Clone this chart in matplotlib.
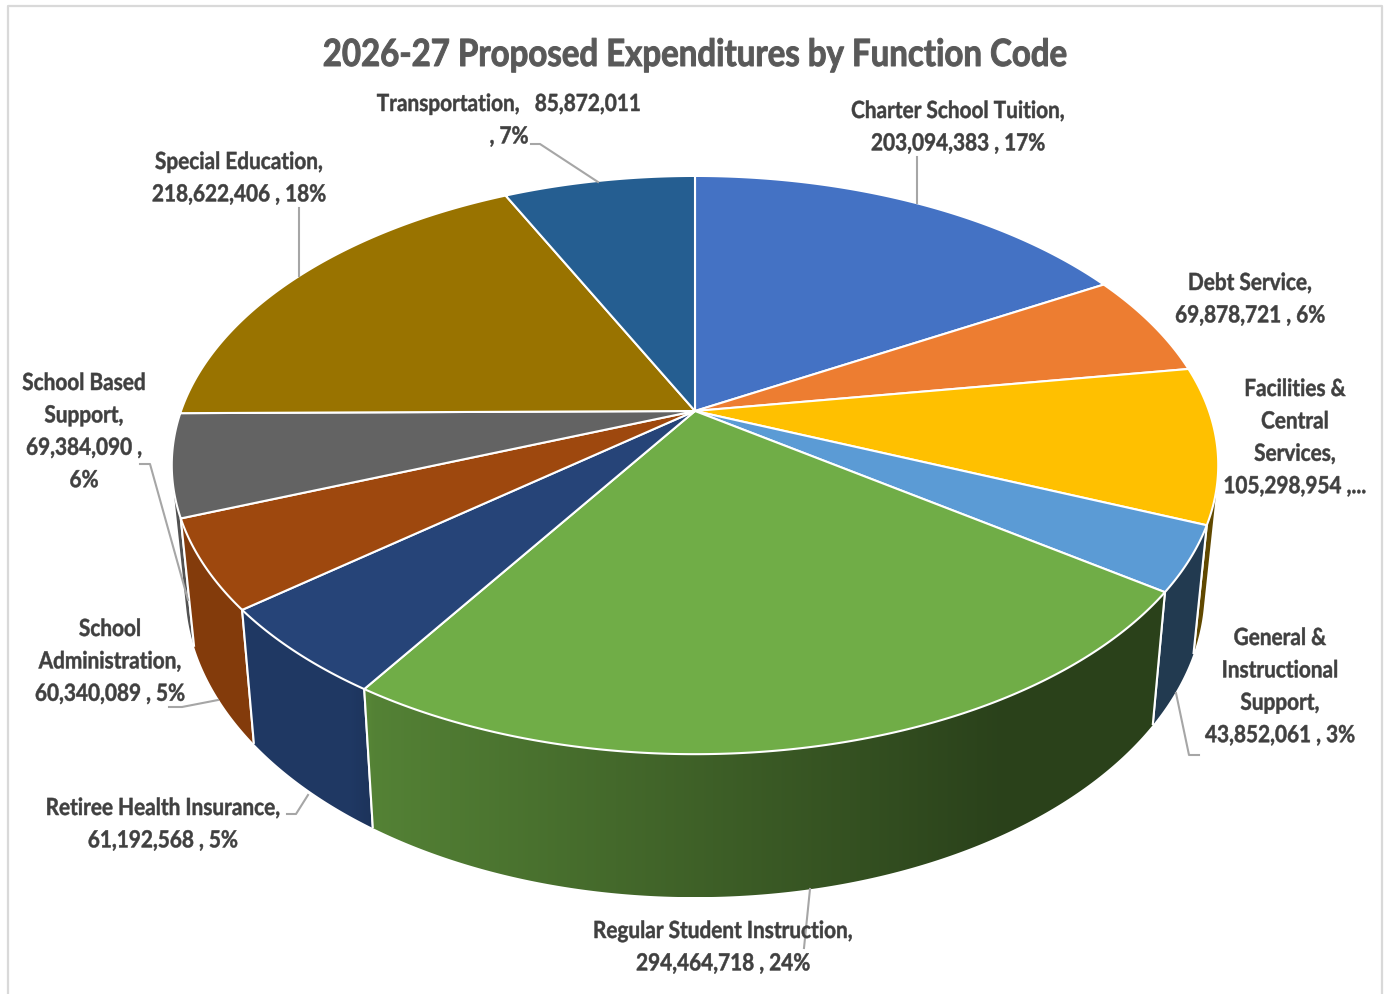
import numpy as np
import matplotlib
matplotlib.use("Agg")
import matplotlib.pyplot as plt
from matplotlib.colors import to_rgb
from matplotlib.patches import Polygon
from matplotlib.patheffects import AbstractPathEffect
from matplotlib.transforms import Affine2D

plt.rcParams['font.family'] = ['Lato', 'DejaVu Sans']

TITLE = "2026-27 Proposed Expenditures by Function Code"
categories = ["Charter School Tuition", "Debt Service", "Facilities & Central Services",
              "General & Instructional Support", "Regular Student Instruction",
              "Retiree Health Insurance", "School Administration", "School Based Support",
              "Special Education", "Transportation"]
amounts = [203094383, 69878721, 105298954, 43852061, 294464718,
           61192568, 60340089, 69384090, 218622406, 85872011]
colors = ["#4472c4", "#ed7d31", "#ffc000", "#5b9bd5", "#70ad47",
          "#264478", "#9e480e", "#636363", "#997300", "#255e91"]
label_lines = [
    ["Charter School Tuition,", "203,094,383 , 17%"],
    ["Debt Service,", "69,878,721 , 6%"],
    ["Facilities &", "Central", "Services,", "105,298,954 ,..."],
    ["General &", "Instructional", "Support,", "43,852,061 , 3%"],
    ["Regular Student Instruction,", "294,464,718 , 24%"],
    ["Retiree Health Insurance,", "61,192,568 , 5%"],
    ["School", "Administration,", "60,340,089 , 5%"],
    ["School Based", "Support,", "69,384,090 ,", "6%"],
    ["Special Education,", "218,622,406 , 18%"],
    ["Transportation,   85,872,011", ", 7%"],
]
# centre x and first-line y of each label block
label_x = [958, 1250, 1295, 1280, 723, 163, 110, 84, 239, 509]
label_y = [108.5, 280.5, 386.5, 635.5, 928.5, 805.5, 626.5, 380.5, 159.5, 101.5]
leaders = [
    [(917, 157), (917, 203)],
    None,
    None,
    [(1176, 693), (1189, 755), (1199, 755)],
    [(810, 889), (804, 948)],
    [(287, 814), (296, 814), (308, 795)],
    [(169, 707), (182, 707), (218, 700)],
    [(140, 464), (150, 464), (188, 600)],
    [(299, 208), (299, 276)],
    [(531, 144), (540, 144), (598, 182)],
]

# Perspective parameters of the tilted disc, in pixels
CX, CY, RX, RY, K = 695.0, 411.0, 514.0, 279.0, 0.187
SCALE_X_LOW, Y_LOW_REF, Y_TOP_REF, SCALE_Y_LOW = 0.974, 726.0, 593.0, 1.062
LINE_STEP = 32.4
LABEL_SQUEEZE = 0.88
TITLE_SQUEEZE = 0.88
TEXT_COLOR = "#404040"
LEADER_COLOR = "#a6a6a6"


class Squeeze(AbstractPathEffect):
    """Narrows glyph outlines horizontally about a fixed display x and thickens them."""

    def __init__(self, x_display, factor, color, stroke):
        super().__init__()
        self._t = Affine2D().translate(-x_display, 0).scale(factor, 1).translate(x_display, 0)
        self._color = color
        self._stroke = stroke

    def draw_path(self, renderer, gc, tpath, affine, rgbFace=None):
        gc0 = renderer.new_gc()
        gc0.copy_properties(gc)
        gc0.set_linewidth(self._stroke)
        gc0.set_foreground(self._color)
        renderer.draw_path(gc0, tpath, affine + self._t, rgbFace)
        gc0.restore()


def top_face(theta):
    u, v = np.sin(theta), np.cos(theta)
    d = 1 + K * v
    return CX + RX * u / d, CY - RY * v / d


def bottom_face(x, y):
    return CX + SCALE_X_LOW * (x - CX), Y_LOW_REF + SCALE_Y_LOW * (y - Y_TOP_REF)


def wall_shade(x):
    return np.interp(x, [350, 373, 1000], [0.83, 0.75, 0.38])


def convex_hull(points):
    pts = sorted(set(points))
    def half(seq):
        out = []
        for p in seq:
            while len(out) >= 2 and ((out[-1][0] - out[-2][0]) * (p[1] - out[-2][1])
                                     - (out[-1][1] - out[-2][1]) * (p[0] - out[-2][0])) <= 0:
                out.pop()
            out.append(p)
        return out[:-1]
    return half(pts) + half(pts[::-1])


def put_text(x, y, s, size, color, squeeze, stroke):
    x_display = ax.transData.transform((x, y))[0]
    t = ax.text(x, y, s, ha="center", va="center_baseline", color=color,
                fontsize=size, fontweight="bold", zorder=6)
    t.set_path_effects([Squeeze(x_display, squeeze, color, stroke)])
    return t


fig = plt.figure(figsize=(13.86, 9.94), dpi=100, facecolor="white")
ax = fig.add_axes([0, 0, 1, 1])
ax.set_xlim(0, 1386)
ax.set_ylim(994, 0)
ax.axis("off")

# Open frame around the chart area
ax.plot([8, 8, 1382, 1382], [994, 5.5, 5.5, 994], color="#d9d9d9", lw=1.6, zorder=0)

fractions = np.array(amounts, dtype=float) / np.sum(amounts)
edges = np.concatenate([[0], np.cumsum(fractions)]) * 2 * np.pi
mid_depth = np.cos((edges[:-1] + edges[1:]) / 2)

# Walls: far slices first so nearer ones overlap them
for order, i in enumerate(np.argsort(-mid_depth)):
    th = np.linspace(edges[i], edges[i + 1], 200)
    xt, yt = top_face(th)
    xb, yb = bottom_face(xt, yt)
    hull = convex_hull(list(zip(np.r_[xt, xb].tolist(), np.r_[yt, yb].tolist())))
    hx = np.array(hull)
    x0, x1 = hx[:, 0].min(), hx[:, 0].max()
    y0, y1 = hx[:, 1].min(), hx[:, 1].max()
    xs = np.linspace(x0, x1, 256)
    grad = (np.array(to_rgb(colors[i]))[None, :] * wall_shade(xs)[:, None])[None, :, :]
    z = 2 + 0.01 * order
    clip = Polygon(hx, closed=True, transform=ax.transData, facecolor="none", edgecolor="none")
    ax.add_patch(clip)
    im = ax.imshow(grad, extent=(x0, x1, y1, y0), aspect="auto", interpolation="bilinear", zorder=z)
    im.set_clip_path(clip)
    for k in (0, -1):
        if np.cos(th[k]) < -0.1:
            ax.plot([xt[k], xb[k]], [yt[k], yb[k]], color="white", lw=1.5,
                    solid_capstyle="butt", zorder=z + 0.005)
ax.set_xlim(0, 1386)
ax.set_ylim(994, 0)

# Top face of every slice
for i in range(len(amounts)):
    th = np.linspace(edges[i], edges[i + 1], 240)
    xt, yt = top_face(th)
    ax.fill(np.r_[CX, xt], np.r_[CY, yt], facecolor=colors[i], edgecolor="white",
            lw=1.5, joinstyle="round", zorder=4)

# Leader lines
for pts in leaders:
    if pts:
        p = np.array(pts)
        ax.plot(p[:, 0], p[:, 1], color=LEADER_COLOR, lw=1.5, zorder=5)

# Data labels
for lines, x, y in zip(label_lines, label_x, label_y):
    for n, line in enumerate(lines):
        put_text(x, y + n * LINE_STEP, line, 17, TEXT_COLOR, LABEL_SQUEEZE, 0.35)

put_text(694.5, 52, TITLE, 27, "#595959", TITLE_SQUEEZE, 0.7)

fig.savefig("out.png", dpi=100, facecolor="white")
